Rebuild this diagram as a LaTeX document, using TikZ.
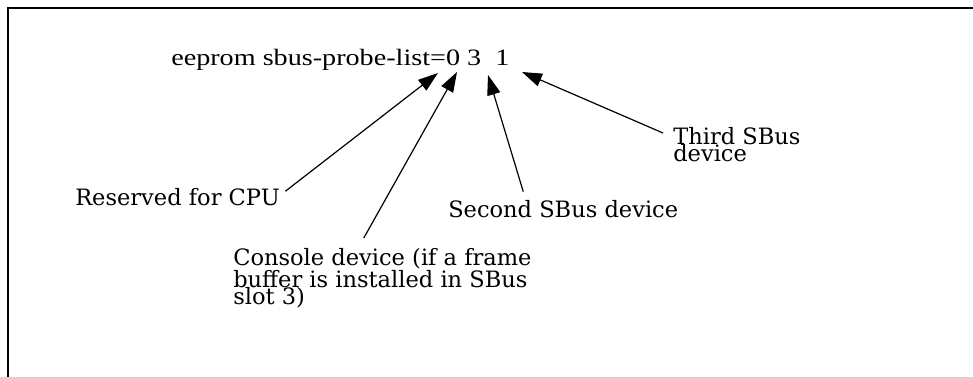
\documentclass[tikz,border=0pt]{standalone}
\usepackage{fontspec}
\usepackage{tikz}
\usetikzlibrary{positioning, arrows, arrows.meta}
\newfontfamily\titlefont[FakeStretch=1.2]{Liberation Serif}
\newfontfamily\labelfont{DejaVu Serif}

\begin{document}
\begin{tikzpicture}[x=0.75pt, y=-0.75pt,
    lbl/.style={font=\labelfont\fontsize{16.9pt}{13.2pt}\selectfont, inner sep=0pt, anchor=base west, align=left},
    ptr/.style={-{Triangle[length=15pt, width=10pt]}, line width=0.9pt}]
    \useasboundingbox (0,0) rectangle (973,377);
    % frame
    \draw[line width=1.2pt] (8,377) -- (8,8) -- (973,8);

    % Define nodes
    \node[inner sep=0pt, anchor=base west, font=\titlefont\fontsize{17.6pt}{20pt}\selectfont] (cmd) at (171,66) {eeprom sbus-probe-list=0 3\ \ 1};
    \node[lbl] (cpu) at (75,206) {Reserved for CPU};
    \node[lbl] (console) at (233,305) {Console device (if a frame\\buffer is installed in SBus\\slot 3)};
    \node[lbl] (second) at (448,218) {Second SBus device};
    \node[lbl] (third) at (673,162) {Third SBus\\device};

    % arrow tips under the list
    \coordinate (slot0) at (438,73);
    \coordinate (slot3) at (457,72);
    \coordinate (slot1) at (488,75);
    \coordinate (slotx) at (522,72);

    % Draw arrows
    \draw[ptr] ([xshift=4pt, yshift=-2pt]cpu.north east) -- (slot0);
    \draw[ptr] ([xshift=-14pt, yshift=7.5pt]console.north) -- (slot3);
    \draw[ptr] ([xshift=-30pt, yshift=6.75pt]second.north) -- (slot1);
    \draw[ptr] ([xshift=-7.5pt, yshift=-4.5pt]third.north west) -- (slotx);
\end{tikzpicture}
\end{document}
